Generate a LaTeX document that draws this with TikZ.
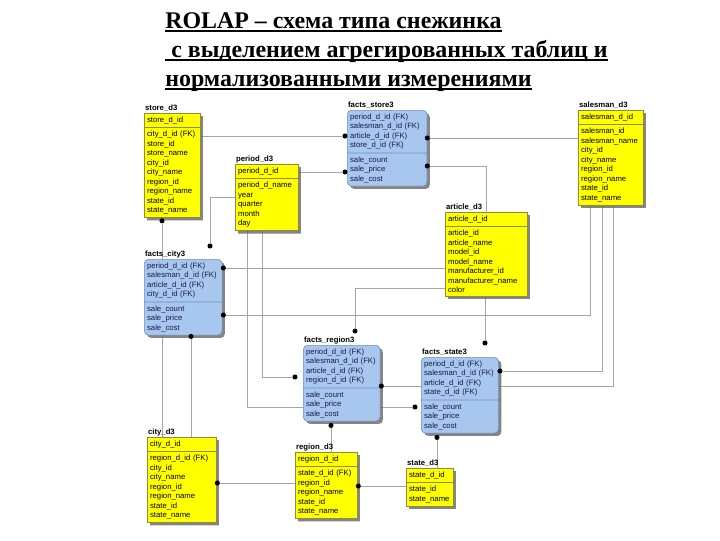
\documentclass[tikz,border=0pt]{standalone}
\usepackage{fontspec}
\setmainfont{Liberation Serif}
\setsansfont{Liberation Sans}
\usetikzlibrary{shapes.multipart,shadows,calc,backgrounds}
\definecolor{dimfill}{RGB}{255,255,0}
\definecolor{dimline}{RGB}{140,140,70}
\definecolor{factfill}{RGB}{168,199,238}
\definecolor{factline}{RGB}{110,140,190}
\definecolor{facttext}{RGB}{25,25,80}
\definecolor{relline}{RGB}{165,165,165}
\newcommand{\titleul}[1]{\setbox0\hbox{#1}\rlap{\rule[-3pt]{\wd0}{1.3pt}}\box0}
\begin{document}
\begin{tikzpicture}[x=0.025cm, y=-0.025cm,
  dimtab/.style={rectangle split, rectangle split parts=2, align=left, text width=#1,
    draw=dimline, fill=dimfill, anchor=north west, inner xsep=2pt, inner ysep=2.3pt,
    font=\sffamily\fontsize{5.5}{6.75}\selectfont,
    drop shadow={shadow xshift=2pt, shadow yshift=-2pt, fill=black!60, opacity=0.8}},
  facttab/.style={dimtab=#1, draw=factline, fill=factfill, rounded corners=3pt, text=facttext},
  tablbl/.style={anchor=south west, inner sep=0.6pt, font=\sffamily\bfseries\fontsize{5.5}{6}\selectfont},
  ttl/.style={anchor=base west, inner sep=0pt, font=\bfseries\fontsize{17}{20}\selectfont},
  fkdot/.style={circle, fill=black, inner sep=0pt, minimum size=3.6pt},
  rel/.style={draw=relline, line width=0.7pt}]
\useasboundingbox (0,0) rectangle (720,540);
\node[ttl] (title1) at (165,28) {\titleul{ROLAP -- схема типа снежинка}};
\node[ttl] (title2) at (165,57) {\titleul{\ с выделением агрегированных таблиц и}};
\node[ttl] (title3) at (165,86) {\titleul{нормализованными измерениями}};

\node[dimtab=35.7pt] (store) at (144,113) {store\_d\_id
  \nodepart{second} city\_d\_id (FK)\\ store\_id\\ store\_name\\ city\_id\\ city\_name\\ region\_id\\ region\_name\\ state\_id\\ state\_name};
\node[dimtab=40.6pt] (period) at (235,164) {period\_d\_id
  \nodepart{second} period\_d\_name\\ year\\ quarter\\ month\\ day};
\node[facttab=52.7pt] (fstore) at (347,110) {period\_d\_id (FK)\\ salesman\_d\_id (FK)\\ article\_d\_id (FK)\\ store\_d\_id (FK)
  \nodepart{second} sale\_count\\ sale\_price\\ sale\_cost};
\node[dimtab=42.1pt] (salesman) at (578,110) {salesman\_d\_id
  \nodepart{second} salesman\_id\\ salesman\_name\\ city\_id\\ city\_name\\ region\_id\\ region\_name\\ state\_id\\ state\_name};
\node[dimtab=54.1pt] (article) at (445,212) {article\_d\_id
  \nodepart{second} article\_id\\ article\_name\\ model\_id\\ model\_name\\ manufacturer\_id\\ manufacturer\_name\\ color};
\node[facttab=51.3pt] (fcity) at (144,259) {period\_d\_id (FK)\\ salesman\_d\_id (FK)\\ article\_d\_id (FK)\\ city\_d\_id (FK)
  \nodepart{second} sale\_count\\ sale\_price\\ sale\_cost};
\node[facttab=50.6pt] (fregion) at (303,345) {period\_d\_id (FK)\\ salesman\_d\_id (FK)\\ article\_d\_id (FK)\\ region\_d\_id (FK)
  \nodepart{second} sale\_count\\ sale\_price\\ sale\_cost};
\node[facttab=51pt] (fstate) at (421,357) {period\_d\_id (FK)\\ salesman\_d\_id (FK)\\ article\_d\_id (FK)\\ state\_d\_id (FK)
  \nodepart{second} sale\_count\\ sale\_price\\ sale\_cost};
\node[dimtab=44.9pt] (city) at (147,437) {city\_d\_id
  \nodepart{second} region\_d\_id (FK)\\ city\_id\\ city\_name\\ region\_id\\ region\_name\\ state\_id\\ state\_name};
\node[dimtab=39.9pt] (region) at (295,452) {region\_d\_id
  \nodepart{second} state\_d\_id (FK)\\ region\_id\\ region\_name\\ state\_id\\ state\_name};
\node[dimtab=29.3pt] (state) at (406,468) {state\_d\_id
  \nodepart{second} state\_id\\ state\_name};

\node[tablbl] (storeL) at (store.north west) {store\_d3};
\node[tablbl] (periodL) at (period.north west) {period\_d3};
\node[tablbl] (fstoreL) at (fstore.north west) {facts\_store3};
\node[tablbl] (salesmanL) at (salesman.north west) {salesman\_d3};
\node[tablbl] (articleL) at (article.north west) {article\_d3};
\node[tablbl] (fcityL) at (fcity.north west) {facts\_city3};
\node[tablbl] (fregionL) at (fregion.north west) {facts\_region3};
\node[tablbl] (fstateL) at (fstate.north west) {facts\_state3};
\node[tablbl] (cityL) at (city.north west) {city\_d3};
\node[tablbl] (regionL) at (region.north west) {region\_d3};
\node[tablbl] (stateL) at (state.north west) {state\_d3};

\node[fkdot] (d1) at ($(fstore.north west)+(-2,26)$) {};
\node[fkdot] (d2) at ($(fstore.north west)+(-2,62)$) {};
\node[fkdot] (d3) at ($(fstore.north east)+(0,28)$) {};
\node[fkdot] (d4) at ($(fstore.north east)+(0,56)$) {};
\node[fkdot] (d5) at ($(fcity.north west)+(66,-13)$) {};
\node[fkdot] (d6) at ($(fcity.north east)+(1,9)$) {};
\node[fkdot] (d7) at ($(fcity.north east)+(1,56)$) {};
\node[fkdot] (d8) at ($(fcity.south west)+(47,1)$) {};
\node[fkdot] (d9) at ($(store.south west)+(18,3)$) {};
\node[fkdot] (d10) at ($(fregion.north west)+(52,-14)$) {};
\node[fkdot] (d11) at ($(fregion.north west)+(-8,32)$) {};
\node[fkdot] (d12) at ($(fregion.north east)+(1,41)$) {};
\node[fkdot] (d13) at ($(fregion.south west)+(28,4)$) {};
\node[fkdot] (d14) at ($(fstate.north west)+(-6,50)$) {};
\node[fkdot] (d15) at ($(fstate.north east)+(1,14)$) {};
\node[fkdot] (d16) at ($(fstate.north west)+(64,-14)$) {};
\node[fkdot] (d17) at ($(fstate.south west)+(16,4)$) {};
\node[fkdot] (d18) at ($(city.north east)+(1,46)$) {};
\node[fkdot] (d19) at ($(region.north east)+(1,34)$) {};

\begin{pgfonlayer}{background}
\draw[rel] (d1) -- (d1 -| store.east);
\draw[rel] (d2) -- (d2 -| period.east);
\draw[rel] (d3) -- (d3 -| salesman.west);
\draw[rel] (d4) -| (article.north);
\draw[rel] (d5) |- (period.west);
\draw[rel] (d6) -- (d6 -| article.west);
\draw[rel] (d7) -| ($(salesman.south west)+(12,0)$);
\draw[rel] (d8) -- (d8 |- city.north);
\draw[rel] (d9) -- (d9 |- city.north);
\draw[rel] (d10) |- ($(article.north west)+(0,76)$);
\draw[rel] (d11) -| ($(period.south west)+(27,0)$);
\draw[rel] (d12) -| ($(salesman.south west)+(35,0)$);
\draw[rel] (d13) -- (d13 |- region.north);
\draw[rel] (d14) -| ($(period.south west)+(12,0)$);
\draw[rel] (d15) -| ($(salesman.south west)+(24,0)$);
\draw[rel] (d16) -- (d16 |- article.south);
\draw[rel] (d17) -- (d17 |- state.north);
\draw[rel] (d18) -- (d18 -| region.west);
\draw[rel] (d19) -- (d19 -| state.west);
\end{pgfonlayer}
\end{tikzpicture}
\end{document}
